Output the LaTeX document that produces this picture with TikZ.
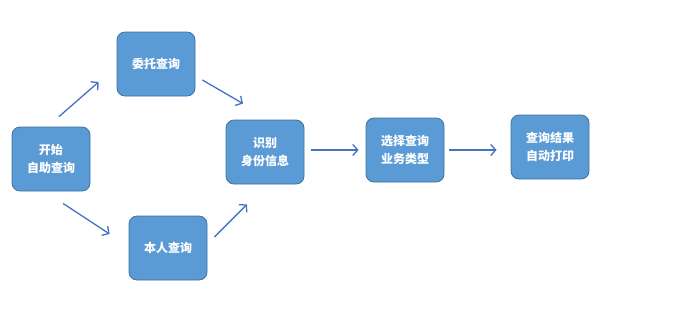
\documentclass[tikz,border=0pt]{standalone}
\usepackage{fontspec}
\newfontfamily\cjk{Noto Sans CJK SC}
\usetikzlibrary{arrows.meta}
\definecolor{boxblue}{HTML}{5B9BD5}
\definecolor{boxedge}{HTML}{41719C}
\definecolor{arrowblue}{HTML}{4472C4}
\begin{document}
\begin{tikzpicture}[x=1pt,y=-1pt,
    stepbox/.style={draw=boxedge, fill=boxblue, line width=0.8pt, rounded corners=8pt,
        minimum width=78pt, minimum height=64pt, align=center, text=white,
        font=\cjk\bfseries\fontsize{12}{18}\selectfont},
    flow/.style={draw=arrowblue, line width=1.3pt, -{Straight Barb[length=5pt,width=11pt]}}]
    \useasboundingbox (0,0) rectangle (687,319);
    % Boxes
    \node[stepbox] (start)  at (51,159)  {开始\\自助查询};
    \node[stepbox] (weituo) at (156,64)  {委托查询};
    \node[stepbox] (benren) at (168,248) {本人查询};
    \node[stepbox] (shibie) at (265,152) {识别\\身份信息};
    \node[stepbox] (xuanze) at (405,150) {选择查询\\业务类型};
    \node[stepbox] (jieguo) at (550,147) {查询结果\\自动打印};
    % Arrows
    \draw[flow] ([shift={(8,-10)}]start.north) -- ([shift={(-18,18)}]weituo.west);
    \draw[flow] ([shift={(7,16)}]weituo.east) -- ([shift={(-22,-16)}]shibie.north);
    \draw[flow] ([shift={(12,12)}]start.south) -- ([shift={(-19,-14)}]benren.west);
    \draw[flow] ([shift={(7,-11)}]benren.east) -- ([shift={(-18,20)}]shibie.south);
    \draw[flow] ([shift={(7,-2)}]shibie.east) -- ([shift={(-7,0)}]xuanze.west);
    \draw[flow] ([shift={(5,0)}]xuanze.east) -- ([shift={(-14,3)}]jieguo.west);
\end{tikzpicture}
\end{document}
